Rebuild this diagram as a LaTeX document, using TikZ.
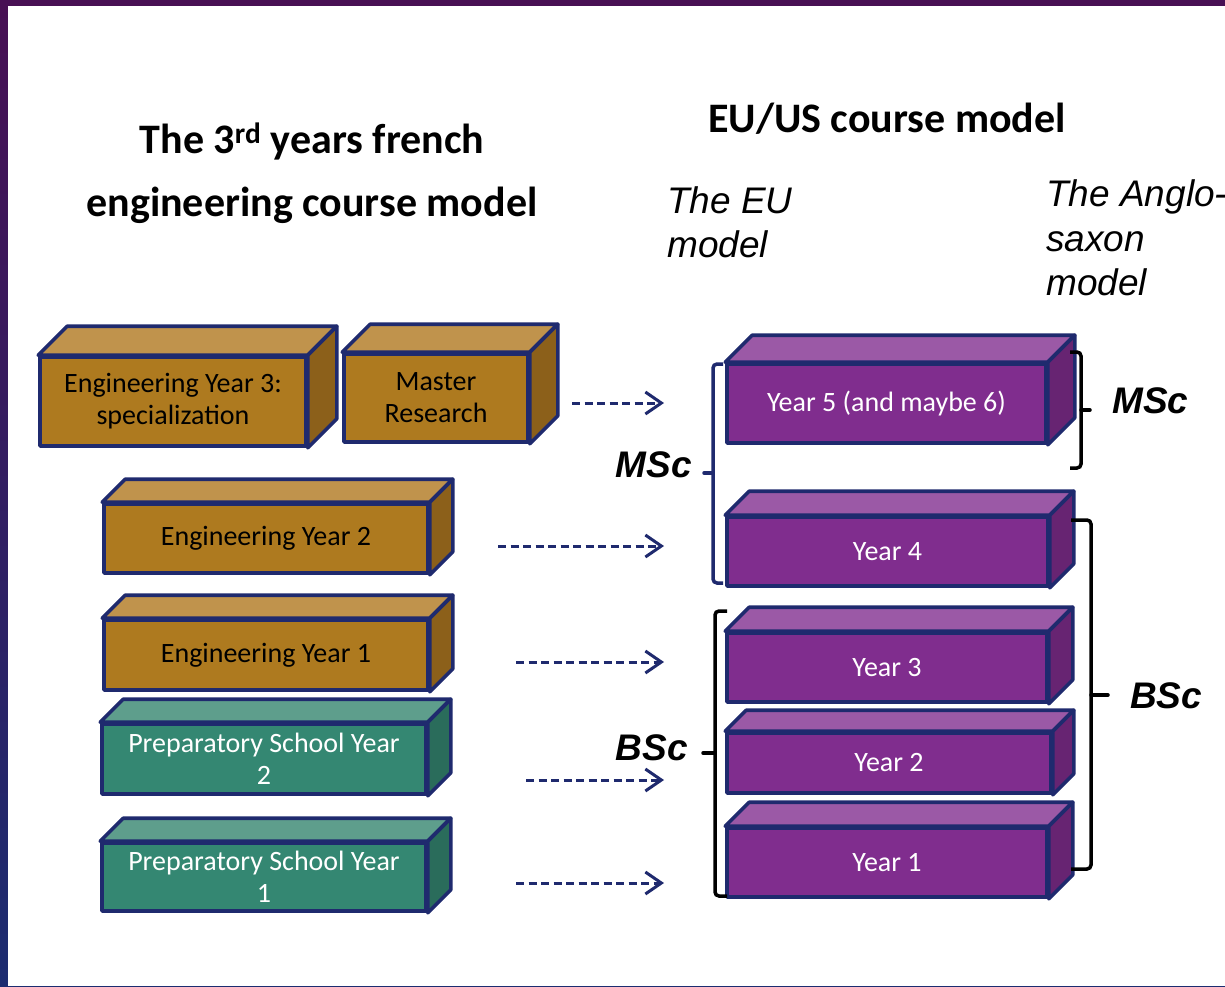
\documentclass[tikz,border=0pt]{standalone}
\usepackage{fontspec}
\setmainfont{Carlito}
\newfontfamily\arialf{Liberation Sans}
\usetikzlibrary{arrows.meta}

\definecolor{navy}{RGB}{31,42,110}
\definecolor{brownfront}{RGB}{174,122,31}
\definecolor{browntop}{RGB}{192,147,76}
\definecolor{brownside}{RGB}{140,96,26}
\definecolor{tealfront}{RGB}{52,135,114}
\definecolor{tealtop}{RGB}{94,158,140}
\definecolor{tealside}{RGB}{42,108,91}
\definecolor{purpfront}{RGB}{128,45,142}
\definecolor{purptop}{RGB}{155,89,166}
\definecolor{purpside}{RGB}{103,36,114}
\definecolor{frametop}{RGB}{72,16,84}
\definecolor{framebot}{RGB}{28,44,112}

\tikzset{
  cubefront/.style={draw=navy, line width=3.6pt, line join=round, align=center, inner sep=0pt,
                    font=\fontsize{28}{32}\selectfont},
  cubeedge/.style={draw=navy, line width=3.6pt, line join=round},
  titlef/.style={font=\fontsize{42}{50}\selectfont\bfseries, inner sep=0pt},
  italf/.style={font=\fontsize{37}{44}\selectfont\arialf\itshape, inner sep=0pt},
  degf/.style={font=\fontsize{37}{44}\selectfont\arialf\bfseries\itshape, inner sep=0pt},
  dasharrow/.style={draw=navy, line width=3pt, dash pattern=on 8pt off 4.5pt,
                    -{Straight Barb[length=16pt,width=22pt]}},
  bracenavy/.style={draw=navy, line width=3.5pt, rounded corners=4pt},
  braceblack/.style={draw=black, line width=3.5pt, rounded corners=4pt},
}

% name, cx, cy, w, h, d, colour prefix, text colour, text
\newcommand\mkcube[9]{%
  \node[cubefront, fill=#7front, text=#8, minimum width=#4pt, minimum height=#5pt] (#1) at (#2,#3) {#9};
  \filldraw[cubeedge, fill=#7top] (#1.north west) -- ++(#6,-#6) -- ([shift={(#6,-#6)}]#1.north east) -- (#1.north east) -- cycle;
  \filldraw[cubeedge, fill=#7side] (#1.north east) -- ++(#6,-#6) -- ([shift={(#6,-#6)}]#1.south east) -- (#1.south east) -- cycle;
}

\begin{document}
\begin{tikzpicture}[x=1pt,y=-1pt]
\useasboundingbox (0,0) rectangle (1225,986);
\shade[top color=frametop, bottom color=framebot] (0,0) rectangle (1225,986);
\fill[white] (8,6) rectangle (1225,986);

% titles
\node[titlef, anchor=base] (t1) at (312,153) {The 3\textsuperscript{rd} years french};
\node[titlef, anchor=base] (t2) at (312,216) {engineering course model};
\node[titlef, anchor=base] (t3) at (887,132) {EU/US course model};

\node[italf, anchor=base west] (eu1) at (667,213) {The EU};
\node[italf, anchor=base west] (eu2) at (667,257) {model};
\node[italf, anchor=base west] (an1) at (1046,206) {The Anglo-};
\node[italf, anchor=base west] (an2) at (1046,251) {saxon};
\node[italf, anchor=base west] (an3) at (1046,295) {model};

% french boxes
\mkcube{e3}{173}{401.5}{266}{89}{29}{brown}{black}{Engineering Year 3:\\specialization}
\mkcube{mr}{436}{398}{184}{88}{28}{brown}{black}{Master\\Research}
\mkcube{e2}{266}{538.5}{324}{69}{23}{brown}{black}{Engineering Year 2}
\mkcube{e1}{266}{655}{324}{70}{23}{brown}{black}{Engineering Year 1}
\mkcube{p2}{264}{759}{324}{70}{23}{teal}{white}{Preparatory School Year\\2}
\mkcube{p1}{264}{877}{324}{68}{23}{teal}{white}{Preparatory School Year\\1}

% EU/US boxes
\mkcube{y5}{886.5}{403.5}{319}{79}{27}{purp}{white}{Year 5 (and maybe 6)}
\mkcube{y4}{887.5}{551.5}{321}{69}{24}{purp}{white}{Year 4}
\mkcube{y3}{887}{667.5}{320}{69}{24}{purp}{white}{Year 3}
\mkcube{y2}{889}{763}{324}{60}{21}{purp}{white}{Year 2}
\mkcube{y1}{887}{862.5}{320}{69}{24}{purp}{white}{Year 1}

% arrows
\coordinate (a1s) at (572,403); \coordinate (a1e) at (664,403);
\coordinate (a2s) at (498,546); \coordinate (a2e) at (664,546);
\coordinate (a3s) at (516,662); \coordinate (a3e) at (664,662);
\coordinate (a4s) at (526,780); \coordinate (a4e) at (664,780);
\coordinate (a5s) at (516,883); \coordinate (a5e) at (664,883);
\draw[dasharrow] (a1s) -- (a1e);
\draw[dasharrow] (a2s) -- (a2e);
\draw[dasharrow] (a3s) -- (a3e);
\draw[dasharrow] (a4s) -- (a4e);
\draw[dasharrow] (a5s) -- (a5e);

% brackets
\draw[bracenavy] (723,364) -- (713,364) -- (713,583) -- (723,583);
\draw[draw=navy, line width=3.5pt, line cap=round] (713,473) -- (704,473);
\draw[braceblack] (727,611) -- (715,611) -- (715,896) -- (727,896);
\draw[draw=black, line width=3.5pt, line cap=round] (715,753) -- (703,753);
\draw[braceblack] (1070,352) -- (1081,352) -- (1081,468) -- (1070,468);
\draw[draw=black, line width=3.5pt, line cap=round] (1081,410) -- (1090,410);
\draw[braceblack] (1071,520) -- (1091,520) -- (1091,869) -- (1071,869);
\draw[draw=black, line width=3.5pt, line cap=round] (1091,695) -- (1108,695);

% degree labels
\node[degf, anchor=base east] (msl) at (692,477) {MSc};
\node[degf, anchor=base east] (bsl) at (688,760) {BSc};
\node[degf, anchor=base west] (msr) at (1112,413) {MSc};
\node[degf, anchor=base west] (bsr) at (1130,708) {BSc};
\end{tikzpicture}
\end{document}
